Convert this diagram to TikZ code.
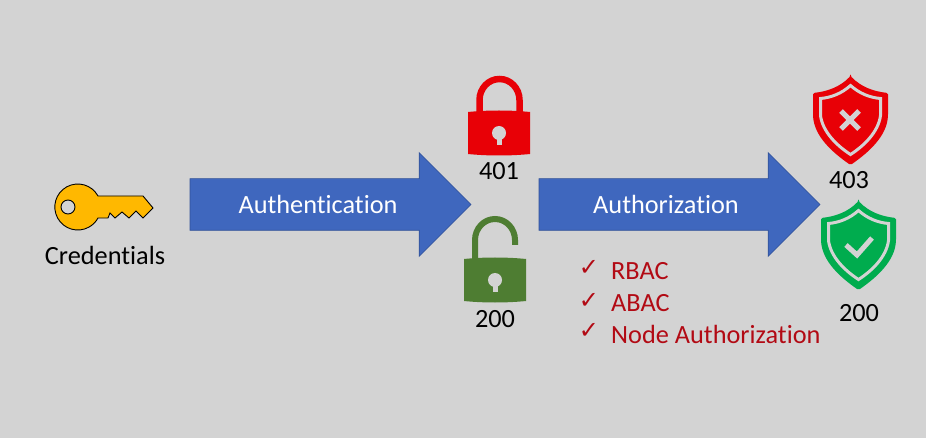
\documentclass[tikz,border=0pt]{standalone}
\usepackage{fontspec}
\setmainfont[Ligatures=NoCommon]{Carlito}
\newfontfamily\checkfont{DejaVu Sans}
\usetikzlibrary{shapes.arrows}
\definecolor{bgcol}{RGB}{211,211,211}
\definecolor{arrowblue}{RGB}{63,103,190}
\definecolor{keygold}{RGB}{255,184,0}
\definecolor{lockred}{RGB}{232,0,6}
\definecolor{lockgreen}{RGB}{78,125,50}
\definecolor{shieldgreen}{RGB}{0,172,78}
\definecolor{listred}{RGB}{178,10,20}
\tikzset{
	bigarrow/.style={single arrow,draw=arrowblue!80!black,line width=0.6pt,fill=arrowblue,minimum width=103pt,single arrow head extend=26pt,single arrow tip angle=90,inner xsep=0pt,inner ysep=25.5pt,outer sep=0pt,anchor=west},
	arrowtext/.style={text=white,font=\fontsize{26.3}{28}\selectfont},
	code/.style={text=black,font=\fontsize{26.3}{28}\selectfont},
	listitem/.style={text=listred,font=\fontsize{26.3}{28}\selectfont,anchor=west,inner sep=0pt},
	tick/.style={text=listred,font=\checkfont\fontsize{24}{26}\selectfont,inner sep=0pt},
	shieldicon/.pic={
		\fill[#1,rounded corners=1.5pt] (0,-44.5) .. controls (11,-33) and (24,-29) .. (37.5,-27.5) -- (37.5,-5) .. controls (36,16) and (18,32) .. (0,44.5) .. controls (-18,32) and (-36,16) .. (-37.5,-5) -- (-37.5,-27.5) .. controls (-24,-29) and (-11,-33) .. (0,-44.5) -- cycle;
		\draw[bgcol,line width=3pt] (0,-35) .. controls (9,-27) and (19,-23) .. (30,-22) -- (30,-5) .. controls (28,11) and (14,25) .. (0,34) .. controls (-14,25) and (-28,11) .. (-30,-5) -- (-30,-22) .. controls (-19,-23) and (-9,-27) .. (0,-35) -- cycle;
	},
	keyhole/.pic={
		\fill[bgcol] (0,0) circle (7pt);
		\fill[bgcol] (-2.5,2) rectangle (2.5,12);
	},
}
\begin{document}
\begin{tikzpicture}[x=1pt,y=-1pt]
	\path[use as bounding box,fill=bgcol] (0,0) rectangle (926,438);

	% key
	\fill[keygold,draw=black,line width=0.9pt] (98,196) arc (28.6:331.4:23pt) -- (108,218) -- (110,213) -- (115,218) -- (122,212) -- (129,218) -- (136,211) -- (143,218) -- (153,208) -- (143,196) -- cycle;
	\fill[bgcol,draw=black,line width=0.9pt] (68,207) circle (7pt);
	\node[code] (cred) at (105,255) {Credentials};

	% arrows
	\node[bigarrow,minimum height=281pt] (authn) at (190,204.5) {};
	\node[arrowtext] (authnlabel) at (318,204) {Authentication};
	\node[bigarrow,minimum height=281pt] (authz) at (539,204.5) {};
	\node[arrowtext] (authzlabel) at (666,204) {Authorization};

	% red lock
	\draw[lockred,line width=6.5pt] (479.5,115) -- (479.5,100) arc (180:0:20pt and 21pt) -- (519.5,115);
	\fill[lockred] (468,112) .. controls (488,110) and (510,110) .. (530,112) -- (530,154) .. controls (510,156) and (488,156) .. (468,154) -- cycle;
	\pic at (499,133) {keyhole};
	\node[code] (locked) at (499,171) {401};

	% green lock
	\draw[lockgreen,line width=6pt] (475,262) -- (475,240) arc (180:0:20pt and 21pt) -- (515,245);
	\fill[lockgreen] (464,259) .. controls (484,257) and (506,257) .. (526,259) -- (526,301) .. controls (506,303) and (484,303) .. (464,301) -- cycle;
	\pic at (495,280) {keyhole};
	\node[code] (unlocked) at (495,319) {200};

	% shields
	\pic at (850.5,120.5) {shieldicon=lockred};
	\draw[bgcol,line width=5pt] (841,111) -- (859,129) (859,111) -- (841,129);
	\node[code] (forbidden) at (849,180) {403};
	\pic at (858.5,245.5) {shieldicon=shieldgreen};
	\draw[bgcol,line width=5pt] (846,245) -- (857,255) -- (872,238);
	\node[code] (allowed) at (859,313) {200};

	% list
	\foreach \y/\t/\n in {271/RBAC/rbac,303.5/ABAC/abac,334/Node Authorization/nodeauth}{
		\node[tick] (tick\n) at (589,\y-3) {✓};
		\node[listitem] (\n) at (611,\y) {\t};
	}
\end{tikzpicture}
\end{document}
